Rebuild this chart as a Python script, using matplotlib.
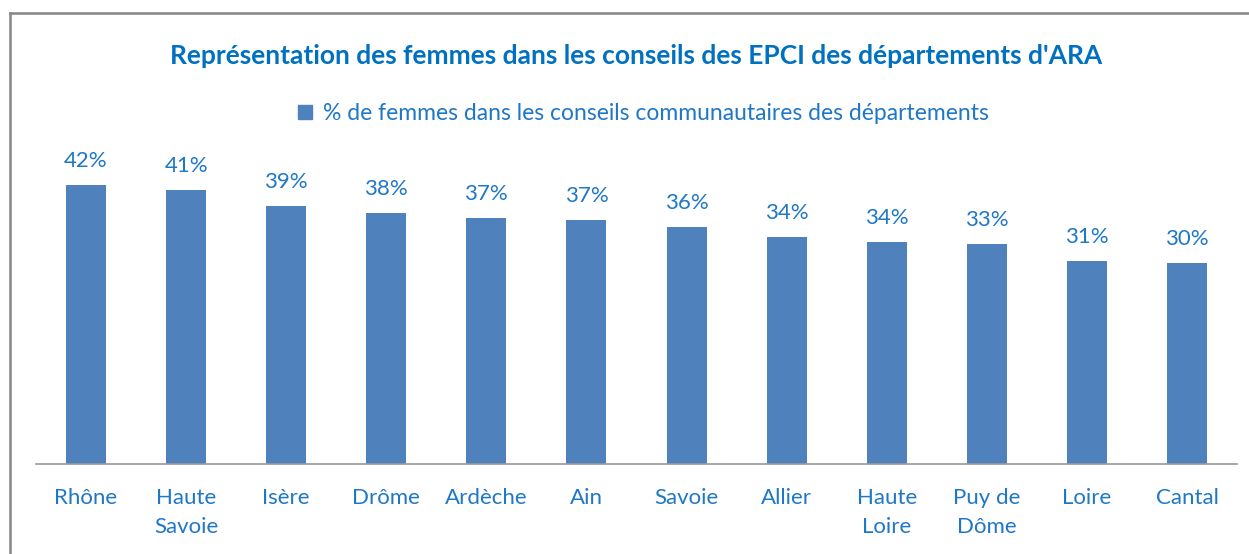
import matplotlib
matplotlib.use("Agg")
import matplotlib.pyplot as plt
from matplotlib.lines import Line2D

categories = ["Rhône", "Haute\nSavoie", "Isère", "Drôme", "Ardèche", "Ain",
              "Savoie", "Allier", "Haute\nLoire", "Puy de\nDôme", "Loire", "Cantal"]
values = [0.420, 0.413, 0.389, 0.378, 0.371, 0.368, 0.357, 0.342, 0.335, 0.332, 0.306, 0.303]
value_labels = ["42%", "41%", "39%", "38%", "37%", "37%", "36%", "34%", "34%", "33%", "31%", "30%"]
title = "Représentation des femmes dans les conseils des EPCI des départements d'ARA"
legend_label = "% de femmes dans les conseils communautaires des départements"

plt.rcParams['font.family'] = ['Lato', 'DejaVu Sans']
W, H = 1249, 554
fig = plt.figure(figsize=(W / 100, H / 100), dpi=100)
bar_color = "#4F81BD"
text_color = "#1F77C8"
title_color = "#0070C0"

ax = fig.add_axes([36 / W, 1 - 464 / H, (1237 - 36) / W, (464 - 152) / H])
x = list(range(len(categories)))
ax.bar(x, values, width=0.4, color=bar_color)
ax.set_xlim(-0.5, len(categories) - 0.5)
ax.set_ylim(0, 0.47)
for s in ["top", "right", "left"]:
    ax.spines[s].set_visible(False)
ax.spines["bottom"].set_color("#9a9a9a")
ax.spines["bottom"].set_linewidth(1.2)
ax.set_yticks([])
ax.set_xticks(x)
ax.set_xticklabels(categories, fontsize=16, color=text_color, linespacing=1.6, va="top")
ax.tick_params(axis="x", length=0, pad=17)
for xi, v, lab in zip(x, values, value_labels):
    ax.annotate(lab, (xi, v), xytext=(0, 10), textcoords="offset points",
                ha="center", va="bottom", fontsize=16, color=text_color)

fig.text(636 / W, 1 - 56 / H, title, ha="center", va="center", fontsize=19,
         fontweight="bold", color=title_color)
handle = Line2D([], [], marker="s", linestyle="none", markersize=10, color=bar_color)
fig.legend([handle], [legend_label], loc="center", bbox_to_anchor=(641 / W, 1 - 114 / H),
           frameon=False, fontsize=16.5, labelcolor=text_color, handletextpad=0.3,
           handlelength=1.0)

# chart border (top and left visible)
fig.add_artist(Line2D([10 / W, 10 / W], [0, 1 - 13 / H], transform=fig.transFigure,
                      color="#858585", linewidth=1.8))
fig.add_artist(Line2D([10 / W, 1], [1 - 13 / H, 1 - 13 / H], transform=fig.transFigure,
                      color="#858585", linewidth=1.8))

fig.savefig("out.png", dpi=100)
